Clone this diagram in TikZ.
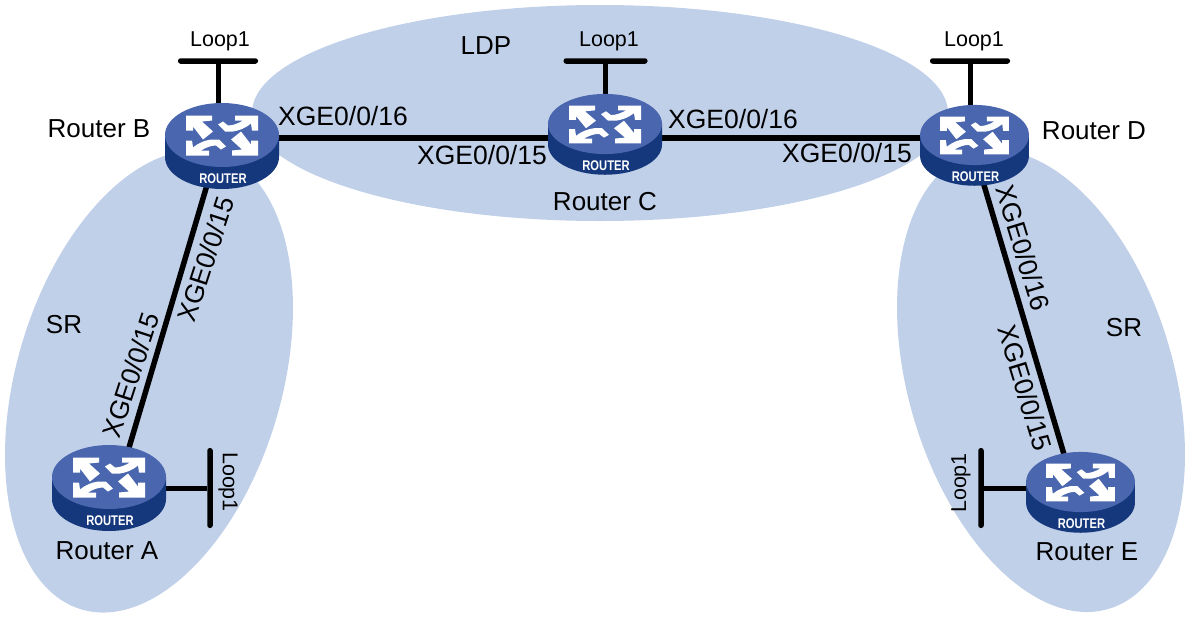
\documentclass[tikz,border=0pt]{standalone}
\usepackage{fontspec}
\setmainfont{Liberation Sans}
\definecolor{regionblue}{HTML}{C1D0E9}
\definecolor{routertop}{HTML}{4A66AE}
\definecolor{routerside}{HTML}{15387D}
\tikzstyle{portname}=[inner sep=0pt, font=\fontsize{26.5}{27}\selectfont]
\tikzstyle{routername}=[inner sep=0pt, font=\fontsize{26}{26}\selectfont]
\tikzstyle{loopname}=[inner sep=0pt, font=\fontsize{21.5}{22}\selectfont]
\tikzstyle{link}=[line width=5.5pt]
\tikzstyle{stub}=[line width=5pt]
\tikzstyle{router}=[inner sep=0pt, minimum size=2pt]
\tikzstyle{barh}=[fill=black, inner sep=0pt, rounded corners=2.5pt, minimum width=80pt, minimum height=5.5pt]
\tikzstyle{barv}=[fill=black, inner sep=0pt, rounded corners=2.5pt, minimum width=5.5pt, minimum height=80pt]
\newcommand{\routerarrows}{
	\fill[white] (-36,-20) -- (-10,-20) -- (-10,-15) -- (-20,-14) -- (-9,-4) -- (-19,4) -- (-29,-9) -- (-29,-5) -- (-36,-5) -- cycle;
	\fill[white] (36,-20) -- (36,-5) -- (30,-5) -- (29,-12) .. controls (23,-7) and (17,-5) .. (11,-4) -- (3,-4) -- (-4,-11) -- (1,-14) -- (6,-10) .. controls (11,-10) and (16,-12) .. (21,-15) -- (13,-15) -- (13,-20) -- cycle;
}
\newcommand{\routericon}[5]{
	\begin{scope}[shift={(#2,#3)}, xscale=#4, yscale=#5]
		\fill[routerside] (-57,0) -- (-57,22) arc [start angle=180, end angle=360, x radius=57pt, y radius=32pt] -- (57,0) -- cycle;
		\fill[routertop] (0,0) ellipse [x radius=57pt, y radius=32pt];
		\begin{scope}[shift={(0,.5)}]
			\routerarrows
			\begin{scope}[rotate=180]
				\routerarrows
			\end{scope}
		\end{scope}
		\node (#1text) at (1,44)[inner sep=0pt, text=white, xscale=.8, font=\fontsize{14}{14}\selectfont\bfseries] {ROUTER};
	\end{scope}
}

\begin{document}
\begin{tikzpicture}[x=1pt, y=-1pt]
		   \useasboundingbox (0,0) rectangle (1190,616);
		   \begin{scope}
			   \fill[regionblue] (600,113) ellipse [x radius=348pt, y radius=108pt];
			   \fill[regionblue, rotate around={-16.5:(149,381.5)}] (149,381.5) ellipse [x radius=132.6pt, y radius=237.7pt];
			   \fill[regionblue, rotate around={16.5:(1041,381)}] (1041,381) ellipse [x radius=132.6pt, y radius=237.7pt];
		   \end{scope}
		   \begin{scope}
			   \node (b) at (221,138)[router] {};
			   \node (c) at (605.5,138)[router] {};
			   \node (d) at (970,138)[router] {};
			   \node (a) at (117,488)[router] {};
			   \node (e) at (1074,488)[router] {};
			   \node (loopb) at (218,61)[barh] {};
			   \node (loopc) at (605.5,61)[barh, minimum width=84pt] {};
			   \node (loopd) at (970,61)[barh] {};
			   \node (loopa) at (210,488)[barv] {};
			   \node (loope) at (981,488)[barv] {};
		   \end{scope}
		   \begin{scope}
			   \draw[link] (b) -- (c);
			   \draw[link] (c) -- (d);
			   \draw[link] (b) -- (a);
			   \draw[link] (d) -- (e);
			   \draw[stub] (loopb) -- (loopb |- b);
			   \draw[stub] (loopc) -- (loopc |- c);
			   \draw[stub] (loopd) -- (loopd |- d);
			   \draw[stub] (loopa) -- (a);
			   \draw[stub] (loope) -- (e);
		   \end{scope}
		   \routericon{ra}{109}{477}{1}{1}
		   \routericon{rb}{222}{135}{1}{1}
		   \routericon{rc}{605}{124}{1}{.94}
		   \routericon{rd}{974.5}{135}{.955}{.94}
		   \routericon{re}{1080.5}{482}{.955}{.94}
		   \begin{scope}
			   \node (namea) at (107,551)[routername] {Router A};
			   \node (nameb) at (99,129)[routername] {Router B};
			   \node (namec) at (605,202)[routername] {Router C};
			   \node (named) at (1094,131)[routername] {Router D};
			   \node (namee) at (1087,552)[routername] {Router E};
			   \node (ldp) at (486,46)[routername] {LDP};
			   \node (sra) at (64,325)[routername] {SR};
			   \node (sre) at (1124,328)[routername] {SR};
			   \node (lpb) at (220,41)[loopname] {Loop1};
			   \node (lpc) at (609,41)[loopname] {Loop1};
			   \node (lpd) at (974,41)[loopname] {Loop1};
			   \node (lpa) at (228,482)[loopname, rotate=-90] {Loop1};
			   \node (lpe) at (961,483)[loopname, rotate=90] {Loop1};
			   \node (p1) at (343,116)[portname] {XGE0/0/16};
			   \node (p2) at (482,155)[portname] {XGE0/0/15};
			   \node (p3) at (733,119)[portname] {XGE0/0/16};
			   \node (p4) at (847,153)[portname] {XGE0/0/15};
			   \node (p5) at (206,259)[portname, rotate=72] {XGE0/0/15};
			   \node (p6) at (131,375)[portname, rotate=72] {XGE0/0/15};
			   \node (p7) at (1023,248)[portname, rotate=-73] {XGE0/0/16};
			   \node (p8) at (1025,388)[portname, rotate=-73] {XGE0/0/15};
		   \end{scope}
\end{tikzpicture}
\end{document}
